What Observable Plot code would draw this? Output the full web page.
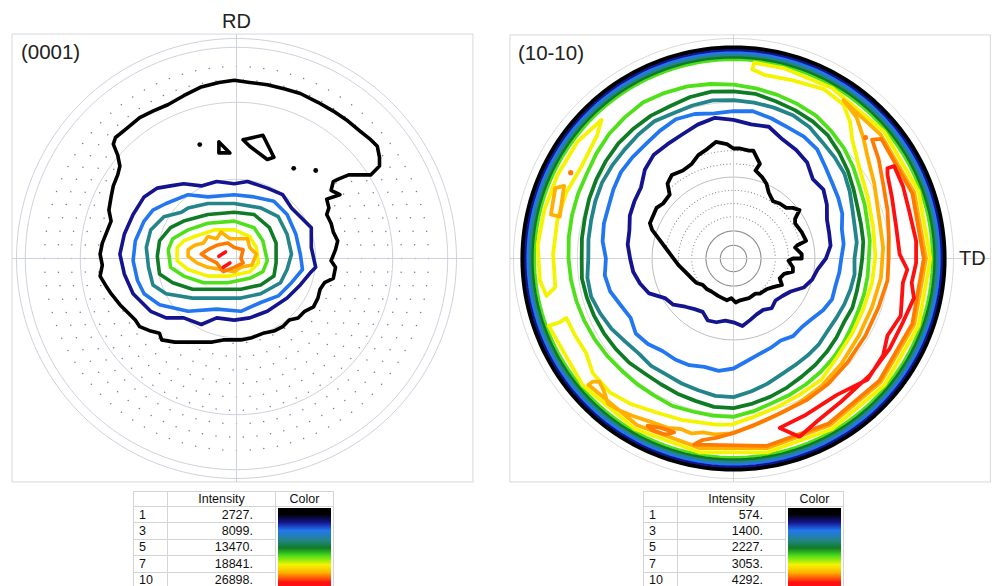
<!DOCTYPE html>
<html>
<head>
<meta charset="utf-8">
<script src="https://cdn.jsdelivr.net/npm/d3@7"></script>
<script src="https://cdn.jsdelivr.net/npm/@observablehq/plot@0.6"></script>
<style>
  html, body { margin: 0; padding: 0; background: #fff; width: 997px; height: 586px; overflow: hidden;
    font-family: "Liberation Sans", Arial, sans-serif; }
  #left { position: absolute; left: 0; top: 0; }
  #right { position: absolute; left: 500px; top: 0; }
  table.legend { position: absolute; top: 491px; border-collapse: collapse; font-size: 12.5px; color: #111;
    font-family: "Liberation Sans", Arial, sans-serif; table-layout: fixed; }
  table.legend td { box-sizing: border-box; border: 1px solid #d4d4d4; padding: 0; height: 16px; line-height: 14px;
    white-space: nowrap; overflow: hidden; }
  table.legend tr.head td { height: 15px; line-height: 13px; text-align: center; }
  table.legend td.idx { padding-left: 5px; }
  table.legend td.val { text-align: right; padding-right: 22px; }
  table.legend td.bar { padding: 1px 2px 0 2px; vertical-align: top; }
  table.legend td.bar div { width: 100%; height: 80px; }
</style>
</head>
<body>
<div id="left"></div>
<div id="right"></div>
<script>
// ---------- levels & colours ----------
const levels = [1, 2, 3, 4, 5, 6, 7, 8, 9, 10];
const levelColors = ["#000000", "#14148f", "#2277f0", "#23858a", "#0f7c25", "#4fe01a", "#f4f400", "#ffb000", "#ff7a00", "#ff1010"];

// ---------- legend data ----------
const legendLevels = [1, 3, 5, 7, 10];
const leftIntensity = ["2727.", "8099.", "13470.", "18841.", "26898."];
const rightIntensity = ["574.", "1400.", "2227.", "3053.", "4292."];

// ---------- (0001) pole figure contours (percent of pole-figure radius) ----------
const left1 = [[-55,55],[-50,59],[-44,64],[-38,67],[-31,70],[-24,74],[-16,78],[-8,80],[-1,81],[6,80],[14,79],[22,77],[29,75],[37,71],[44,67],[50,63],[56,58],[61,54],[64,51],[65,46],[65,42],[61,38],[56,38],[51,38],[46,36],[44,35],[43,31],[47,29],[41,27],[42,23],[41,20],[43,16],[44,12],[46,8],[45,4],[43,-1],[45,-4],[44,-9],[40,-11],[38,-14],[37,-18],[35,-22],[31,-24],[28,-27],[24,-28],[21,-31],[17,-33],[12,-34],[7,-36],[2,-37],[-2,-37],[-6,-37],[-11,-38],[-16,-38],[-22,-38],[-28,-38],[-34,-37],[-35,-34],[-39,-33],[-44,-31],[-46,-28],[-50,-24],[-53,-21],[-57,-16],[-59,-13],[-62,-8],[-61,-3],[-62,2],[-61,7],[-59,12],[-57,17],[-58,22],[-57,28],[-56,33],[-54,38],[-53,42],[-54,47],[-56,52]];
const left1Triangle = [[-8,53],[-3,48],[-8,48]];
const left1Kite = [[3,54],[12,56],[17,46],[14,45],[6,51]];
const left1Dots = [[-16.7,51.8],[26,41],[36,40]];
const left2 = [[-36,32],[-30,33],[-24,34],[-16,33],[-9,35],[-1,34],[5,35],[14,32],[21,29],[25,23],[29,19],[34,14],[34,5],[36,-4],[34,-6],[29,-12],[23,-18],[14,-24],[6,-27],[-1,-28],[-9,-27],[-16,-30],[-24,-27],[-32,-27],[-39,-24],[-47,-16],[-51,-7],[-53,2],[-51,11],[-47,20],[-42,28]];
const left3 = [[-32,25],[-22,29],[-13,28],[-1,29],[8,28],[17,26],[23,20],[27,11],[29,2],[30,-5],[25,-11],[19,-17],[11,-20],[2,-24],[-9,-23],[-22,-24],[-35,-21],[-42,-16],[-45,-10],[-47,-1],[-46,8],[-42,17],[-38,22]];
const left4 = [[-25,21],[-22,23],[-13,25],[-1,25],[11,23],[19,19],[23,11],[25,2],[23,-5],[20,-11],[11,-16],[2,-18],[-9,-18],[-20,-18],[-32,-16],[-38,-12],[-40,-4],[-41,5],[-39,13],[-33,19]];
const left5 = [[-24,17],[-13,20],[-1,21],[8,20],[15,14],[18,7],[18,-2],[17,-8],[11,-12],[2,-14],[-9,-14],[-20,-14],[-29,-11],[-35,-7],[-36,1],[-35,8],[-30,14]];
const left6 = [[-22,13],[-13,16],[-1,17],[8,14],[12,8],[14,-1],[12,-6],[6,-9],[-4,-11],[-15,-11],[-24,-8],[-30,-4],[-31,4],[-29,9]];
const left7 = [[-19,10],[-10,13],[-1,13],[6,10],[9,5],[10,-2],[6,-6],[-3,-8],[-13,-8],[-22,-5],[-27,-1],[-27,5],[-24,8]];
const left8 = [[-19,6],[-15,7],[-13,10],[-9,9],[-7,12],[-3,9],[5,9],[6,5],[9,2],[7,-3],[2,-4],[-1,-6],[-7,-5],[-13,-4],[-18,-2],[-22,1],[-22,4]];
const left9 = [[-13,4],[-9,6],[-4,7],[-1,5],[3,4],[2,0],[3,-2],[-1,-4],[-6,-6],[-9,-2],[-13,0],[-16,2]];
const left10a = [[-8,1],[-5,3]];
const left10b = [[-6,-4],[-3,-2]];

// ---------- (10-10) pole figure contours ----------
const ringAngles = [0,7.5,15,22.5,30,37.5,45,52.5,60,67.5,75,82.5,90,97.5,105,112.5,120,127.5,135,142.5,150,157.5,165,172.5,180,187.5,195,202.5,210,217.5,225,232.5,240,247.5,255,262.5,270,277.5,285,292.5,300,307.5,315,322.5,330,337.5,345,352.5];
const right2Radii = [42,44.5,45,46,49,51.5,51,55,57,58.5,62,61.5,63,64.5,63,61,60,59.5,57,53,52,51,49,48.5,47,46,44,41.5,36,34.5,31,29,28,30.5,30,28.5,29,31,29,27.5,27,28.5,27,28,30,34.5,37,38.5];
const right3Radii = [49,50.5,51,53.5,55,56.5,59,62.5,64,64.5,66,67.5,67,66.5,68,68.5,67,65.5,65,64.5,63,61.5,61,60,58,59,58,55.5,54,56,55,53,53,52.5,51,51.5,50,47,45,44,43,44.5,44,45,47,48.5,48,48.5];
const right4Radii = [55,56.5,57,58.5,61,63.5,65,66.5,69,70.5,71,71.5,72,72.5,72,71.5,72,71,70,69.5,69,68,67,66.5,66,67,67,65.5,64,62,61,61.5,61,61.5,62,63,63,61,59,57,56,55.5,55,54,54,54.5,55,55.5];
const right5Radii = [58.5,59.5,60,61,63,65.5,68,70.5,72,73,74,75.5,76,76.5,76,75,75,74.5,74,73,72,71,70,69.5,69,69.5,69,68.5,68,67.5,67,66,66,66.5,67,68,68,66.5,65,63.5,62,61,60,59,58,58.5,58,58];
const right6Radii = [61.5,62.5,63,64.5,66,68.5,71,73,75,76,77,78,79,80,81,81.5,82,81,80,78.5,77,76.5,76,75.5,75,74.5,74,73.5,73,72.5,72,72,72,72.5,72,72,72,70,68,67,66,65,64,63,62,61.5,61.5,61.5];
const rightBandLevels = [6, 5, 4, 3, 2, 1];
const rightBandRadii = [90.6, 91.7, 92.8, 93.9, 95.0, 96.0];
const right1Inner = [[-38,16],[-35,23],[-32,25],[-29,29],[-30,34],[-28,38],[-23,40],[-19,43],[-16,47],[-13,49],[-8,53],[-3,52],[0,50],[3,50],[7,49],[9,49],[12,43],[10,40],[13,37],[15,34],[16,30],[18,26],[21,25],[24,23],[27,23],[30,22],[28,18],[28,16],[31,12],[33,8],[29,6],[28,5],[31,2],[31,0],[27,0],[25,-1],[27,-4],[27,-6],[23,-7],[21,-9],[22,-12],[18,-13],[15,-14],[12,-16],[10,-16],[7,-18],[3,-19],[1,-20],[-1,-18],[-3,-19],[-5,-18],[-7,-17],[-10,-15],[-12,-14],[-14,-12],[-17,-11],[-19,-9],[-22,-6],[-25,-3],[-28,1],[-31,5],[-34,9],[-37,13]];
const right7Main = [[8.5,86],[14,83.5],[27,81],[41,77],[50,70],[53,62],[54,54],[57,42],[61,28],[63.5,14],[64.5,1],[63,-11],[59,-23],[54,-34],[47,-45],[40,-55],[30,-62],[19,-68],[9,-72],[-1,-75.5],[-8,-75.5],[-23,-73.5],[-35,-70],[-47,-66],[-56,-61],[-64,-52],[-67,-43],[-72,-35],[-76,-27],[-79,-29],
  [-84,-30.6],[-68.6,-57.5],[-44.8,-77.5],[-15.5,-88.1],[15.5,-88.1],[44.8,-77.5],[68.6,-57.5],[84.1,-30.6],[89.5,0],[84.1,30.6],[68.6,57.5],[44.8,77.5],[23.2,86.4],[9.4,89]];
const right7Loop = [[-60,63],[-71,53],[-80,38],[-86,22],[-89,6],[-88,-10],[-85,-17],[-81,-13],[-82,2],[-80,18],[-76,30],[-69,42],[-62,56]];
const right8Main = [[50,72],[56,64],[59,55],[61,46],[64,34],[66,20],[68,5],[67,-9],[63,-22],[57,-35],[49,-48],[40,-58],[30,-65.5],[19,-71.5],[8,-76.5],[-1,-79.5],[-8,-80],[-14,-79],[-19,-79.5],[-24,-77.5],[-30,-77],[-37,-74.5],[-46,-71.5],[-52,-69],[-57,-66],[-59,-60],[-61,-56],[-64,-56],
  [-66,-57.4],[-43.8,-75.8],[-15.2,-86.2],[15.2,-86.2],[43.8,-75.8],[67,-56.2],[82.2,-29.9],[87.5,0],[82.2,29.9],[67,56.2],[50.2,71.7]];
const right8Loop = [[-81,32],[-77,33],[-79,19],[-83,20]];
const right9Main = [[63,54],[66,45],[68,34],[70,22],[70.6,10],[70.5,0],[70,-10],[66,-22],[60,-35],[52,-47],[43,-57],[33,-64.5],[22,-70],[11,-75],[1,-79],[-8,-81.5],[-14,-82.5],[-17,-84],
  [-17.9,-84.6],[15.0,-85.2],[43.3,-75],[66.3,-55.6],[81.3,-29.6],[86.5,0],[81.3,29.6],[67.2,54.4]];
const right9Blob = [[-39,-76],[-33,-77],[-27,-79],[-31,-80],[-37,-78]];
const right9Dots = [[60,55],[-74,39]];
const right10 = [[70,41],[73,42],[77,33],[80,21],[83,8],[83,-2],[81,-11],[82,-18],[77,-29],[71,-41],[62,-53],[49,-65],[38,-74],[30,-81],[21,-77],[33,-71],[47,-62],[61,-55],[68,-44],[70,-35],[76,-26],[77,-11],[79,-5],[75.5,2],[74,14],[72,28],[70,38]];

// ---------- grid ----------
const leftGridCircles = [36, 71, 96, 100];
const rightGridCircles = [6, 12.5, 37, 71, 100];
const rightDottedRings = [19, 25, 31, 43, 49];

// ---------- helpers ----------
const rad = a => a * Math.PI / 180;
const polar = (angles, radii) => angles.map((a, i) => [radii[i] * Math.cos(rad(a)), radii[i] * Math.sin(rad(a))]);
function circlePts(r, step = 2) {
  const pts = [];
  for (let a = 0; a <= 360; a += step) pts.push([r * Math.cos(rad(a)), r * Math.sin(rad(a))]);
  return pts;
}
function rows(list) {
  const out = [];
  list.forEach((c, id) => {
    const pts = c.closed === false ? c.pts : [...c.pts, c.pts[0]];
    pts.forEach(([x, y]) => out.push({x, y, id, level: c.level}));
  });
  return out;
}
const style = {background: "transparent", fontFamily: "'Liberation Sans', Arial, sans-serif"};
const color = {type: "ordinal", domain: levels, range: levelColors};

// ---------- LEFT PANEL ----------
const leftFrame = {x1: -101.8, x2: 107.7, y1: -101.8, y2: 101.8};
const leftDots = [];
for (let r = 8; r <= 93; r += 6.1) {
  const n = Math.round(2 * Math.PI * r / 6.2);
  for (let k = 0; k < n; k++) {
    const p = [r * Math.cos(2 * Math.PI * k / n), r * Math.sin(2 * Math.PI * k / n)];
    if (!d3.polygonContains(left1, p)) leftDots.push({x: p[0], y: p[1]});
  }
}
const leftCircleRows = rows(leftGridCircles.map(r => ({pts: circlePts(r), level: 0, closed: false})));
const leftContours = rows([
  {pts: left1, level: 1}, {pts: left1Triangle, level: 1}, {pts: left1Kite, level: 1},
  {pts: left2, level: 2}, {pts: left3, level: 3}, {pts: left4, level: 4}, {pts: left5, level: 5},
  {pts: left6, level: 6}, {pts: left7, level: 7}, {pts: left8, level: 8}, {pts: left9, level: 9},
  {pts: left10a, level: 10, closed: false}, {pts: left10b, level: 10, closed: false}
]);

const leftPlot = Plot.plot({
  width: 497, height: 490, margin: 0, style, color,
  x: {domain: [-236 / 2.2, 261 / 2.2], axis: null},
  y: {domain: [-232 / 2.2, 258 / 2.2], axis: null},
  marks: [
    Plot.rect([leftFrame], {x1: "x1", x2: "x2", y1: "y1", y2: "y2", fill: "none", stroke: "#d8d8dc", strokeWidth: 1}),
    Plot.dot(leftDots, {x: "x", y: "y", r: 0.75, fill: "#7a7a88", stroke: null}),
    Plot.line(leftCircleRows, {x: "x", y: "y", z: "id", stroke: "#c9ccd8", strokeWidth: 0.9}),
    Plot.ruleX([0], {y1: leftFrame.y1, y2: leftFrame.y2, stroke: "#c9ccd8", strokeWidth: 0.9}),
    Plot.ruleY([0], {x1: leftFrame.x1, x2: leftFrame.x2, stroke: "#c9ccd8", strokeWidth: 0.9}),
    Plot.line(leftContours, {x: "x", y: "y", z: "id", stroke: "level", strokeWidth: 3.6, strokeLinejoin: "round", strokeLinecap: "round"}),
    Plot.dot(left1Dots, {x: d => d[0], y: d => d[1], r: 2.4, fill: "#000", stroke: null}),
    Plot.text([{x: 0, y: 107.5, t: "RD"}], {x: "x", y: "y", text: "t", fontSize: 20, fill: "#222", textAnchor: "middle"}),
    Plot.text([{x: -98, y: 93.5, t: "(0001)"}], {x: "x", y: "y", text: "t", fontSize: 20.5, fill: "#222", textAnchor: "start"})
  ]
});
document.getElementById("left").appendChild(leftPlot);

// ---------- RIGHT PANEL ----------
const rightFrame = {x1: -101.4, x2: 117, y1: -101.8, y2: 101.4};
const rightCircleRows = rows(rightGridCircles.map(r => ({pts: circlePts(r), level: 0, closed: false})));
const rightDotted = [];
rightDottedRings.forEach(r => {
  const n = Math.round(2 * Math.PI * r / 1.5);
  for (let k = 0; k < n; k++) {
    const p = [r * Math.cos(2 * Math.PI * k / n), r * Math.sin(2 * Math.PI * k / n)];
    if (d3.polygonContains(right1Inner, p)) rightDotted.push({x: p[0], y: p[1]});
  }
});
const rightList = [
  {pts: right1Inner, level: 1},
  {pts: polar(ringAngles, right2Radii), level: 2},
  {pts: polar(ringAngles, right3Radii), level: 3},
  {pts: polar(ringAngles, right4Radii), level: 4},
  {pts: polar(ringAngles, right5Radii), level: 5},
  {pts: polar(ringAngles, right6Radii), level: 6},
  ...rightBandRadii.map((r, i) => ({pts: circlePts(r), level: rightBandLevels[i], closed: false})),
  {pts: right7Main, level: 7}, {pts: right7Loop, level: 7},
  {pts: right8Main, level: 8}, {pts: right8Loop, level: 8},
  {pts: right9Main, level: 9}, {pts: right9Blob, level: 9},
  {pts: right10, level: 10}
];
const rightContours = rows(rightList);

const rightPlot = Plot.plot({
  width: 497, height: 490, margin: 0, style, color,
  x: {domain: [-233 / 2.2, 264 / 2.2], axis: null},
  y: {domain: [-232 / 2.2, 258 / 2.2], axis: null},
  marks: [
    Plot.rect([rightFrame], {x1: "x1", x2: "x2", y1: "y1", y2: "y2", fill: "none", stroke: "#d8d8d8", strokeWidth: 1}),
    Plot.line(rightCircleRows.filter(d => d.id >= 3), {x: "x", y: "y", z: "id", stroke: "#d6d6d6", strokeWidth: 0.9}),
    Plot.line(rightCircleRows.filter(d => d.id < 2), {x: "x", y: "y", z: "id", stroke: "#8c8c8c", strokeWidth: 1.1}),
    Plot.line(rightCircleRows.filter(d => d.id === 2), {x: "x", y: "y", z: "id", stroke: "#bdbdbd", strokeWidth: 1}),
    Plot.dot(rightDotted, {x: "x", y: "y", r: 0.6, fill: "#8a8a8a", stroke: null}),
    Plot.ruleX([0], {y1: rightFrame.y1, y2: rightFrame.y2, stroke: "#cfcfcf", strokeWidth: 0.9}),
    Plot.ruleY([0], {x1: rightFrame.x1, x2: rightFrame.x2, stroke: "#cfcfcf", strokeWidth: 0.9}),
    Plot.line(rightContours, {x: "x", y: "y", z: "id", stroke: "level", strokeWidth: 3.8, strokeLinejoin: "round", strokeLinecap: "round"}),
    Plot.dot(right9Dots, {x: d => d[0], y: d => d[1], r: 2.6, fill: levelColors[8], stroke: null}),
    Plot.text([{x: -98, y: 93, t: "(10-10)"}], {x: "x", y: "y", text: "t", fontSize: 20.5, fill: "#222", textAnchor: "start"}),
    Plot.text([{x: 102.5, y: 0, t: "TD"}], {x: "x", y: "y", text: "t", fontSize: 20, fill: "#222", textAnchor: "start"})
  ]
});
document.getElementById("right").appendChild(rightPlot);

// ---------- LEGEND TABLES ----------
const gradient = "linear-gradient(to bottom, " + [
  [0, 0], [0, 8], [1, 18], [2, 28], [3, 40], [4, 50], [5, 60], [6, 71], [7, 81], [9, 93]
].map(([i, p]) => `${levelColors[i]} ${p}%`).join(", ") + ", " + levelColors[9] + " 100%)";
function legendTable(leftPx, values) {
  const t = document.createElement("table");
  t.className = "legend";
  t.style.left = leftPx + "px";
  const cg = document.createElement("colgroup");
  [34, 108, 58].forEach(w => { const c = document.createElement("col"); c.style.width = w + "px"; cg.appendChild(c); });
  t.appendChild(cg);
  const h = t.insertRow(); h.className = "head";
  h.insertCell().textContent = "";
  h.insertCell().textContent = "Intensity";
  h.insertCell().textContent = "Color";
  legendLevels.forEach((lv, i) => {
    const r = t.insertRow();
    const a = r.insertCell(); a.className = "idx"; a.textContent = lv;
    const b = r.insertCell(); b.className = "val"; b.textContent = values[i];
    if (i === 0) {
      const c = r.insertCell(); c.className = "bar"; c.rowSpan = legendLevels.length;
      const d = document.createElement("div"); d.style.background = gradient; c.appendChild(d);
    }
  });
  document.body.appendChild(t);
}
legendTable(133, leftIntensity);
legendTable(643, rightIntensity);
</script>
</body>
</html>
